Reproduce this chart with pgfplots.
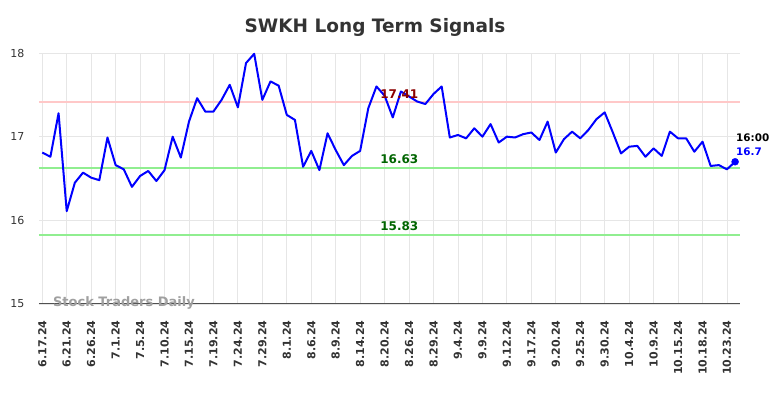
\documentclass[border=0pt]{standalone}
\usepackage{pgfplots}
\pgfplotsset{compat=1.18}
\usepackage{fontspec}
\setmainfont{DejaVu Sans}
\definecolor{gridc}{RGB}{230,230,230}
\definecolor{axc}{RGB}{80,80,80}
\definecolor{redl}{RGB}{255,200,200}
\definecolor{greenl}{RGB}{144,238,144}
\definecolor{dred}{RGB}{139,0,0}
\definecolor{dgreen}{RGB}{0,100,0}
\definecolor{titc}{RGB}{51,51,51}
\definecolor{wm}{RGB}{160,160,160}
\begin{document}
\begin{tikzpicture}[x=1pt,y=1pt]
\useasboundingbox (0,0) rectangle (784,398);
\node[font=\bfseries\fontsize{18.5}{20}\selectfont, text=titc] at (375,371) {SWKH Long Term Signals};
\begin{axis}[
  at={(39pt,94pt)}, anchor=south west,
  scale only axis, width=701pt, height=251pt,
  xmin=-0.4, xmax=85.6, ymin=15, ymax=18,
  ytick={15,16,17,18},
  xtick={0,3,...,84},
  xticklabels={6.17.24,6.21.24,6.26.24,7.1.24,7.5.24,7.10.24,7.15.24,7.19.24,7.24.24,7.29.24,8.1.24,8.6.24,8.9.24,8.14.24,8.20.24,8.26.24,8.29.24,9.4.24,9.9.24,9.12.24,9.17.24,9.20.24,9.25.24,9.30.24,10.4.24,10.9.24,10.15.24,10.18.24,10.23.24},
  x tick label style={rotate=90, anchor=east, font=\bfseries\fontsize{11}{12}\selectfont, text=titc, xshift=-13pt},
  y tick label style={font=\fontsize{11}{12}\selectfont, text=titc, xshift=-11pt},
  /pgf/number format/assume math mode=true,
  major tick length=0pt,
  grid=major, grid style={gridc, line width=0.8pt},
  axis x line*=bottom, axis y line*=left,
  x axis line style={axc, line width=1pt, -},
  y axis line style={draw=none},
  clip=false,
]
\addplot[redl, line width=2pt] coordinates {(-0.4,17.41) (85.6,17.41)};
\addplot[greenl, line width=2pt] coordinates {(-0.4,16.63) (85.6,16.63)};
\addplot[greenl, line width=2pt] coordinates {(-0.4,15.83) (85.6,15.83)};
\node[font=\bfseries\fontsize{13}{14}\selectfont, text=wm, anchor=west, inner sep=0pt] at (axis cs:1.3,15.01) {Stock Traders Daily};
\addplot[blue, line width=2pt, line join=round] table {
x y
0 16.81
1 16.76
2 17.28
3 16.11
4 16.45
5 16.57
6 16.51
7 16.48
8 16.99
9 16.66
10 16.61
11 16.40
12 16.53
13 16.59
14 16.47
15 16.60
16 17.00
17 16.75
18 17.18
19 17.46
20 17.30
21 17.30
22 17.44
23 17.62
24 17.35
25 17.88
26 17.99
27 17.44
28 17.66
29 17.61
30 17.26
31 17.20
32 16.64
33 16.83
34 16.60
35 17.04
36 16.84
37 16.66
38 16.77
39 16.83
40 17.34
41 17.60
42 17.49
43 17.23
44 17.54
45 17.48
46 17.42
47 17.39
48 17.51
49 17.60
50 16.99
51 17.02
52 16.98
53 17.10
54 17.00
55 17.15
56 16.93
57 17.00
58 16.99
59 17.03
60 17.05
61 16.96
62 17.18
63 16.81
64 16.97
65 17.06
66 16.98
67 17.08
68 17.21
69 17.29
70 17.05
71 16.80
72 16.88
73 16.89
74 16.76
75 16.86
76 16.77
77 17.06
78 16.98
79 16.98
80 16.82
81 16.94
82 16.65
83 16.66
84 16.61
85 16.70
};
\addplot[blue, only marks, mark=*, mark size=3.5pt] coordinates {(85,16.70)};
\node[font=\bfseries\fontsize{12}{14}\selectfont, text=dred] at (axis cs:43.8,17.41) [anchor=south] {17.41};
\node[font=\bfseries\fontsize{12}{14}\selectfont, text=dgreen] at (axis cs:43.8,16.63) [anchor=south] {16.63};
\node[font=\bfseries\fontsize{12}{14}\selectfont, text=dgreen] at (axis cs:43.8,15.83) [anchor=south] {15.83};
\node[font=\bfseries\fontsize{10.4}{12}\selectfont, text=black, anchor=west, inner sep=0pt] at (axis cs:85.1,16.985) {16:00};
\node[font=\bfseries\fontsize{10.4}{12}\selectfont, text=blue, anchor=west, inner sep=0pt] at (axis cs:85.1,16.82) {16.7};
\end{axis}
\end{tikzpicture}
\end{document}
